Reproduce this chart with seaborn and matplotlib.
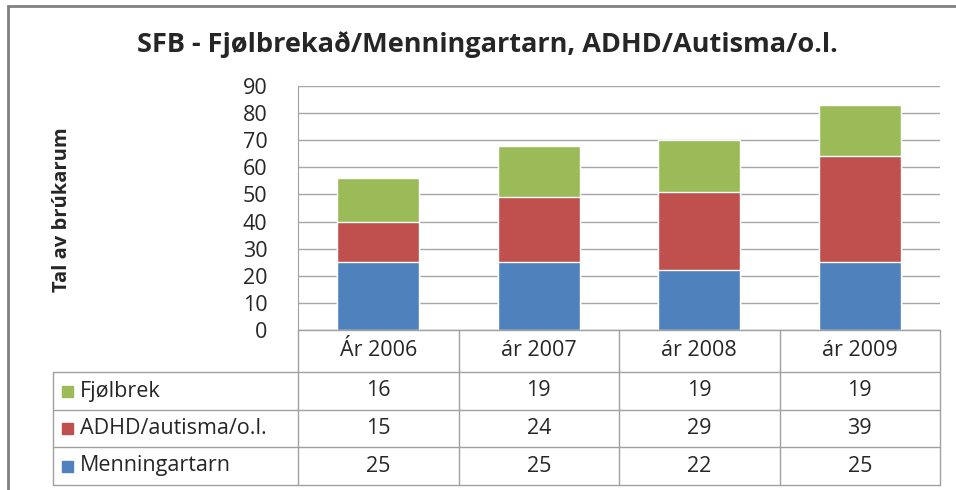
import matplotlib.pyplot as plt
import seaborn as sns
from matplotlib.patches import Rectangle
from matplotlib.lines import Line2D

# data
years = ['Ár 2006', 'ár 2007', 'ár 2008', 'ár 2009']
menningartarn = [25, 25, 22, 25]
adhd = [15, 24, 29, 39]
fjolbrek = [16, 19, 19, 19]
series_names = ['Fjølbrek', 'ADHD/autisma/o.l.', 'Menningartarn']
colors = {'Fjølbrek': '#9BBB59', 'ADHD/autisma/o.l.': '#C0504D', 'Menningartarn': '#4F81BD'}

sns.set_style('white')
plt.rcParams['font.family'] = ['Open Sans', 'DejaVu Sans']
fs = 15.5

fig = plt.figure(figsize=(9.56, 4.9), dpi=100)
W, H = 956, 490
L, R, T, B = 298, 940, 86, 330
ax = fig.add_axes([L / W, 1 - B / H, (R - L) / W, (B - T) / H])

top = [m + a + f for m, a, f in zip(menningartarn, adhd, fjolbrek)]
mid = [m + a for m, a in zip(menningartarn, adhd)]
sns.barplot(x=years, y=top, color=colors['Fjølbrek'], width=0.51, saturation=1, ax=ax)
sns.barplot(x=years, y=mid, color=colors['ADHD/autisma/o.l.'], width=0.51, saturation=1, ax=ax)
sns.barplot(x=years, y=menningartarn, color=colors['Menningartarn'], width=0.51, saturation=1, ax=ax)

ax.set_ylim(0, 90)
ax.set_xlim(-0.5, 3.5)
ax.set_yticks(range(0, 91, 10))
ax.set_yticklabels([str(v) for v in range(0, 91, 10)], fontsize=fs)
ax.set_xticks([])
ax.set_xlabel('')
ax.tick_params(axis='y', length=0, pad=22)
ax.yaxis.grid(True, color='#a6a6a6', linewidth=1)
ax.set_axisbelow(True)
for s in ['top', 'right', 'bottom']:
    ax.spines[s].set_visible(False)
ax.spines['left'].set_color('#a0a0a0')

ax.set_ylabel('Tal av brúkarum', fontsize=14.5, fontweight='bold')
ax.yaxis.set_label_coords((72 - L) / (R - L), (B - 210) / (B - T))
fig.text(487 / W, 1 - 45 / H, 'SFB - Fjølbrekað/Menningartarn, ADHD/Autisma/o.l.',
         ha='center', va='center', fontsize=19.5, fontweight='bold')

# data table under the chart
def ax_x(px):
    return (px - L) / (R - L)

def ax_y(py):
    return (B - py) / (B - T)

tc = '#a0a0a0'
row_lines = [372, 410, 447, 485]
for py in row_lines:
    ax.add_line(Line2D([ax_x(53), 1], [ax_y(py)] * 2, transform=ax.transAxes,
                       color=tc, lw=1, clip_on=False))
ax.add_line(Line2D([0, 1], [0, 0], transform=ax.transAxes, color=tc, lw=1, clip_on=False))
ax.add_line(Line2D([ax_x(53)] * 2, [ax_y(372), ax_y(485)], transform=ax.transAxes,
                   color=tc, lw=1, clip_on=False))
for i in range(5):
    xx = i / 4
    ax.add_line(Line2D([xx, xx], [0, ax_y(485)], transform=ax.transAxes,
                       color=tc, lw=1, clip_on=False))

for i, yr in enumerate(years):
    ax.text((i + 0.5) / 4, ax_y(351), yr, transform=ax.transAxes, ha='center',
            va='center', fontsize=fs)

table_vals = {'Fjølbrek': fjolbrek, 'ADHD/autisma/o.l.': adhd, 'Menningartarn': menningartarn}
row_centers = [391, 428.5, 466]
for name, py in zip(series_names, row_centers):
    ax.add_patch(Rectangle((ax_x(62), ax_y(py + 5.5)), 11 / (R - L), 11 / (B - T),
                           transform=ax.transAxes, color=colors[name], clip_on=False))
    ax.text(ax_x(80), ax_y(py), name, transform=ax.transAxes, ha='left',
            va='center', fontsize=fs)
    for i, v in enumerate(table_vals[name]):
        ax.text((i + 0.5) / 4, ax_y(py), str(v), transform=ax.transAxes,
                ha='center', va='center', fontsize=fs)

# outer chart border
fig.patches.append(Rectangle((8 / W, -0.1), 1.5, 1 - 6 / H + 0.1, transform=fig.transFigure,
                             fill=False, edgecolor='#808080', lw=2))

fig.savefig('out.png', dpi=100)
